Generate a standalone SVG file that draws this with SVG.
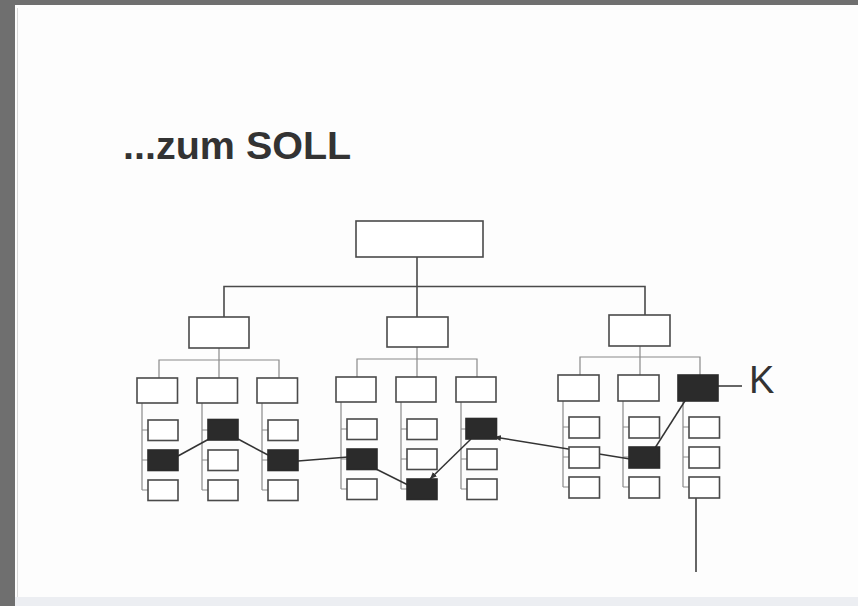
<svg xmlns="http://www.w3.org/2000/svg" width="858" height="606" viewBox="0 0 858 606">
<defs>
<style>
.box{fill:#fff;stroke:#4a4a4a;stroke-width:1.6}
.fill{fill:#2b2b2b;stroke:#2b2b2b;stroke-width:1.6}
.main{fill:none;stroke:#4a4a4a;stroke-width:1.6}
.sub{fill:none;stroke:#8a8a8a;stroke-width:1.2}
.link{fill:none;stroke:#333;stroke-width:1.5}
.title{font-family:"Liberation Sans",Arial,sans-serif;font-weight:bold;font-size:39.5px;fill:#333}
.k{font-family:"Liberation Sans",Arial,sans-serif;font-size:38px;fill:#333}
</style>
<marker id="arr" markerUnits="userSpaceOnUse" markerWidth="8" markerHeight="8" refX="7" refY="4" orient="auto">
<path d="M0,1 L7,4 L0,7 Z" fill="#333"/>
</marker>
</defs>
<rect x="0" y="0" width="858" height="606" fill="#6f6f6f"/>
<rect x="15" y="5" width="843" height="601" fill="#fdfdfd"/>
<rect x="15" y="597" width="843" height="9" fill="#eceef2"/>
<line x1="17.5" y1="8" x2="17.5" y2="597" stroke="#d8d8d8" stroke-width="1"/>

<text class="title" x="123" y="159">...zum SOLL</text>

<g id="connectors">
<path class="main" d="M417,257 V286.5 M224,317 V286.5 H645 V315 M417,286.5 V317"/>
<path class="sub" d="M219,348 V360 M159,378 V360 H279 V378 M219,360 V378"/>
<path class="sub" d="M417,347 V359 M357,377 V359 H477 V377 M417,359 V377"/>
<path class="sub" d="M640,346 V357 M580,375 V357 H700 V375 M640,357 V375"/>
<path class="sub" d="M142,403 V490 M142,430 H148 M142,460 H148 M142,490 H148"/>
<path class="sub" d="M202,403 V490 M202,430 H208 M202,460 H208 M202,490 H208"/>
<path class="sub" d="M262,403 V490 M262,430 H268 M262,460 H268 M262,490 H268"/>
<path class="sub" d="M341,402 V489 M341,429 H347 M341,459 H347 M341,489 H347"/>
<path class="sub" d="M401,402 V489 M401,429 H407 M401,459 H407 M401,489 H407"/>
<path class="sub" d="M461,402 V489 M461,429 H467 M461,459 H467 M461,489 H467"/>
<path class="sub" d="M563,401 V487 M563,427 H569 M563,457 H569 M563,487 H569"/>
<path class="sub" d="M623,401 V487 M623,427 H629 M623,457 H629 M623,487 H629"/>
<path class="sub" d="M683,401 V487 M683,427 H689 M683,457 H689 M683,487 H689"/>
<line class="link" x1="178" y1="456" x2="209" y2="439"/>
<line class="link" x1="238" y1="439" x2="268" y2="455"/>
<line class="link" x1="298" y1="461" x2="348" y2="457"/>
<line class="link" x1="376" y1="469" x2="408" y2="485"/>
<line class="link" x1="471" y1="439" x2="430" y2="479" marker-end="url(#arr)"/>
<line class="link" x1="630" y1="459" x2="494" y2="437" marker-end="url(#arr)"/>
<line class="link" x1="690" y1="393" x2="655" y2="448"/>
<line class="link" x1="718" y1="386" x2="742" y2="386"/>
<line class="link" x1="696" y1="483" x2="696" y2="572"/>
</g>

<g id="top"><rect class="box" x="356" y="221" width="127" height="36"/></g>
<g id="mL"><rect class="box" x="189" y="317" width="60" height="31"/></g>
<g id="mM"><rect class="box" x="387" y="317" width="61" height="30"/></g>
<g id="mR"><rect class="box" x="609" y="315" width="61" height="31"/></g>

<g id="L1"><rect class="box" x="137" y="378" width="40.5" height="25"/></g>
<g id="L2"><rect class="box" x="197" y="378" width="40.5" height="25"/></g>
<g id="L3"><rect class="box" x="257" y="378" width="40.5" height="25"/></g>
<g id="M1"><rect class="box" x="336" y="377" width="40" height="25"/></g>
<g id="M2"><rect class="box" x="396" y="377" width="40" height="25"/></g>
<g id="M3"><rect class="box" x="456" y="377" width="40" height="25"/></g>
<g id="R1"><rect class="box" x="558" y="375" width="41" height="26"/></g>
<g id="R2"><rect class="box" x="618" y="375" width="41" height="26"/></g>
<g id="R3"><rect class="fill" x="678" y="375" width="40" height="26"/></g>

<g id="L1a"><rect class="box" x="148" y="420" width="30" height="20.5"/></g>
<g id="L1b"><rect class="fill" x="148" y="450" width="30" height="20.5"/></g>
<g id="L1c"><rect class="box" x="148" y="480" width="30" height="20.5"/></g>
<g id="L2a"><rect class="fill" x="208" y="419.5" width="30" height="20.5"/></g>
<g id="L2b"><rect class="box" x="208" y="450" width="30" height="20.5"/></g>
<g id="L2c"><rect class="box" x="208" y="480" width="30" height="20.5"/></g>
<g id="L3a"><rect class="box" x="268" y="420" width="30" height="20.5"/></g>
<g id="L3b"><rect class="fill" x="268" y="450" width="30" height="20.5"/></g>
<g id="L3c"><rect class="box" x="268" y="480" width="30" height="20.5"/></g>

<g id="M1a"><rect class="box" x="347" y="419" width="30" height="20.5"/></g>
<g id="M1b"><rect class="fill" x="347" y="449" width="30" height="20.5"/></g>
<g id="M1c"><rect class="box" x="347" y="479" width="30" height="20.5"/></g>
<g id="M2a"><rect class="box" x="407" y="419" width="30" height="20.5"/></g>
<g id="M2b"><rect class="box" x="407" y="449" width="30" height="20.5"/></g>
<g id="M2c"><rect class="fill" x="407" y="479" width="30" height="20.5"/></g>
<g id="M3a"><rect class="fill" x="466" y="418.5" width="30.5" height="20.5"/></g>
<g id="M3b"><rect class="box" x="467" y="449" width="30" height="20.5"/></g>
<g id="M3c"><rect class="box" x="467" y="479" width="30" height="20.5"/></g>

<g id="R1a"><rect class="box" x="569" y="417" width="30.5" height="21"/></g>
<g id="R1b"><rect class="box" x="569" y="447" width="30.5" height="21"/></g>
<g id="R1c"><rect class="box" x="569" y="477" width="30.5" height="21"/></g>
<g id="R2a"><rect class="box" x="629" y="417" width="30.5" height="21"/></g>
<g id="R2b"><rect class="fill" x="629" y="447" width="30.5" height="21"/></g>
<g id="R2c"><rect class="box" x="629" y="477" width="30.5" height="21"/></g>
<g id="R3a"><rect class="box" x="689" y="417" width="30.5" height="21"/></g>
<g id="R3b"><rect class="box" x="689" y="447" width="30.5" height="21"/></g>
<g id="R3c"><rect class="box" x="689" y="477" width="30.5" height="21"/></g>

<text class="k" x="749" y="393">K</text>
</svg>
